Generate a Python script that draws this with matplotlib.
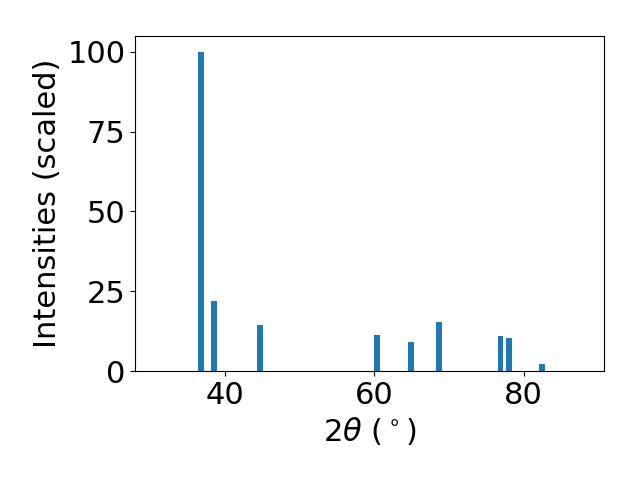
import matplotlib
matplotlib.use("Agg")
import matplotlib.pyplot as plt

two_theta = [36.8, 38.5, 44.6, 60.4, 64.9, 68.6, 76.9, 78.0, 82.5]
intensity = [100.0, 22.0, 14.4, 11.3, 9.1, 15.4, 11.0, 10.4, 2.2]

plt.rcParams["font.size"] = 22

fig, ax = plt.subplots(figsize=(6.4, 4.8), dpi=100)
ax.bar(two_theta, intensity, width=0.8, color="#1f77b4")
ax.set_xlim(27.9, 90.8)
ax.set_xlabel(r"$2\theta$ ($^\circ$)")
ax.set_ylabel("Intensities (scaled)")
ax.set_yticks([0, 25, 50, 75, 100])
fig.subplots_adjust(left=0.211, right=0.944, bottom=0.227, top=0.925)
fig.savefig("out.png", dpi=100)
